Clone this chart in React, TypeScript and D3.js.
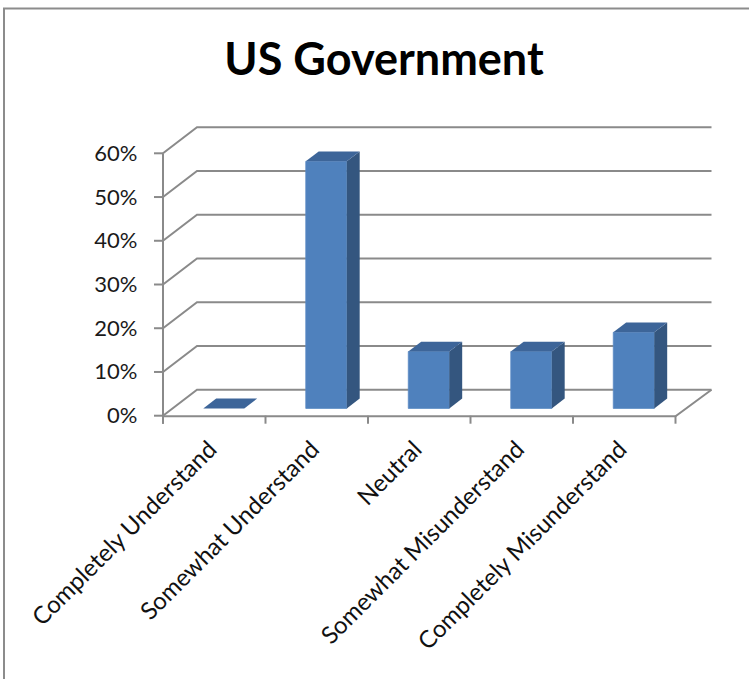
import React from "react";
import * as d3 from "d3";

const categories = [
  "Completely Understand",
  "Somewhat Understand",
  "Neutral",
  "Somewhat Misunderstand",
  "Completely Misunderstand",
];
const values = [0, 0.565, 0.13, 0.13, 0.174];
const yTicks = [0, 0.1, 0.2, 0.3, 0.4, 0.5, 0.6];
const title = "US Government";

const W = 749;
const H = 679;
const DX = 34; // depth offset x
const DY = -26; // depth offset y
const FONT = "Lato, 'Open Sans', sans-serif";
const GRID = "#8a8a8a";

export default function App() {
  const x = d3.scaleBand<string>().domain(categories).range([163, 675.5]);
  const y = d3.scaleLinear().domain([0, 0.6]).range([415.7, 153.3]);
  const bw = x.bandwidth();
  const f0 = 0.28; // front of bars in depth
  const f1 = 0.66; // back of bars in depth
  const barW = bw * 0.4;
  const x0 = x.range()[0];
  const x1 = x.range()[1];
  const y0 = y(0);

  const line = d3.line<[number, number]>();

  return (
    <svg
      width={W}
      height={H}
      style={{ position: "absolute", left: 0, top: 0, background: "#fff" }}
    >
      {/* frame */}
      <path d={`M4,${H + 5} L4,8.5 L${W + 5},8.5`} fill="none" stroke="#8c8c8c" strokeWidth={2} />

      <text
        x={384}
        y={75}
        textAnchor="middle"
        fontFamily={FONT}
        fontWeight="bold"
        fontSize={45}
        fill="#000"
      >
        {title}
      </text>

      {/* side wall + back wall gridlines */}
      {yTicks.map((t) => (
        <path
          key={"g" + t}
          d={line([
            [x0, y(t)],
            [x0 + DX, y(t) + DY],
            [x1 + DX + 2, y(t) + DY],
          ]) as string}
          fill="none"
          stroke={GRID}
          strokeWidth={2}
        />
      ))}
      {/* floor front and right edge */}
      <path
        d={line([
          [x0, y0 + 0.5],
          [x1, y0 + 0.5],
          [x1 + DX + 2, y0 + DY],
        ]) as string}
        fill="none"
        stroke={GRID}
        strokeWidth={2}
      />
      {/* y axis */}
      <line x1={x0} x2={x0} y1={y(0.6)} y2={y0 + 8} stroke={GRID} strokeWidth={2} />
      {yTicks.map((t) => (
        <line key={"t" + t} x1={x0 - 9} x2={x0} y1={y(t)} y2={y(t)} stroke={GRID} strokeWidth={2} />
      ))}
      {yTicks.map((t) => (
        <text
          key={"l" + t}
          x={137.5}
          y={y(t) + 7.5}
          textAnchor="end"
          fontFamily={FONT}
          fontSize={22}
          fill="#1a1a1a"
        >
          {d3.format(".0%")(t)}
        </text>
      ))}
      {/* x ticks */}
      {categories.concat(["__end"]).map((c, i) => {
        const xx = i < categories.length ? (x(c) as number) : x1;
        return <line key={"xt" + i} x1={xx} x2={xx} y1={y0} y2={y0 + 8} stroke={GRID} strokeWidth={2} />;
      })}

      {/* bars */}
      {categories.map((c, i) => {
        const v = values[i];
        const bx = (x(c) as number) + (bw - barW) / 2 + f0 * DX;
        const by0 = y0 + f0 * DY;
        const byT = y(v) + f0 * DY;
        const ddx = (f1 - f0) * DX;
        const ddy = (f1 - f0) * DY;
        const front = `M${bx},${by0} L${bx + barW},${by0} L${bx + barW},${byT} L${bx},${byT} Z`;
        const side = `M${bx + barW},${by0} L${bx + barW + ddx},${by0 + ddy} L${bx + barW + ddx},${byT + ddy} L${bx + barW},${byT} Z`;
        const top = `M${bx},${byT} L${bx + barW},${byT} L${bx + barW + ddx},${byT + ddy} L${bx + ddx},${byT + ddy} Z`;
        return (
          <g key={"b" + i}>
            {v > 0 && <path d={front} fill="#4f81bd" stroke="#5a8ac4" strokeWidth={0.8} />}
            {v > 0 && <path d={side} fill="#34567f" />}
            <path d={top} fill="#3d6599" />
          </g>
        );
      })}

      {/* x labels */}
      {categories.map((c) => {
        const cx = (x(c) as number) + bw / 2 + 4;
        return (
          <text
            key={"xl" + c}
            transform={`translate(${cx},${451}) rotate(-45)`}
            textAnchor="end"
            fontFamily={FONT}
            fontSize={24}
            fill="#111"
          >
            {c}
          </text>
        );
      })}
    </svg>
  );
}
